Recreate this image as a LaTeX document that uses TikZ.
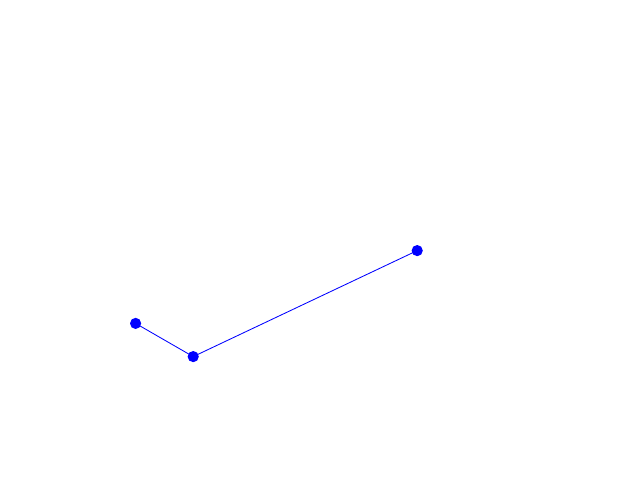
\documentclass[tikz,border=0pt]{standalone}
\usepackage{tikz}
\definecolor{dotblue}{RGB}{0,0,255}
\tikzset{
  link/.style={line width=0.6pt,dotblue},
  dot/.style={circle,fill=dotblue,inner sep=0pt,minimum size=0.28cm}
}
\begin{document}
\begin{tikzpicture}
  \useasboundingbox (0,0) rectangle (16,12);
  \node[dot] (p) at (3.39,3.915) {};
  \node[dot] (q) at (4.83,3.085) {};
  \node[dot] (r) at (10.43,5.735) {};
  \draw[link] (p.center)--(q.center)--(r.center);
\end{tikzpicture}
\end{document}
